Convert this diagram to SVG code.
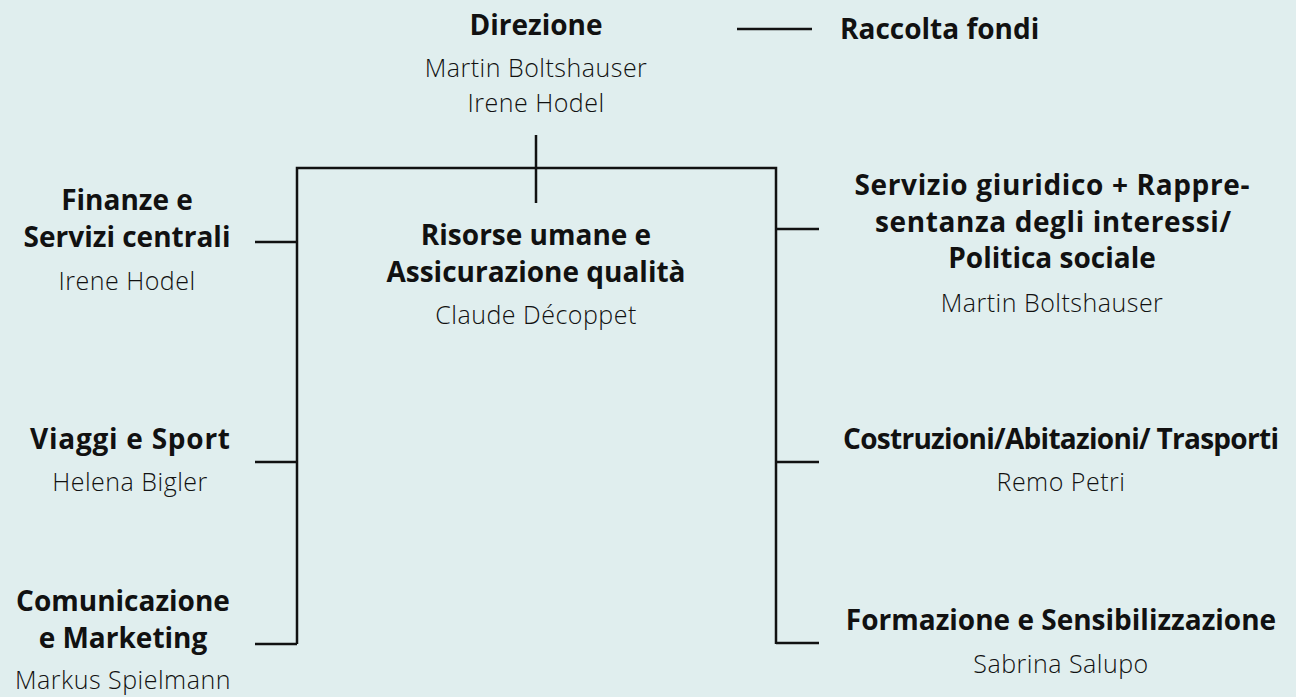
<svg xmlns="http://www.w3.org/2000/svg" width="1296" height="697" viewBox="0 0 1296 697">
<style>
.t{font-family:"Open Sans","Liberation Sans",sans-serif;font-weight:700;font-size:28px;fill:#111;text-anchor:middle}
.p{font-family:"Open Sans","Liberation Sans",sans-serif;font-weight:300;font-size:25px;letter-spacing:0.5px;fill:#111;text-anchor:middle}
.c{fill:none;stroke:#111;stroke-width:2.5}
</style>
<rect width="1296" height="697" fill="#e0eeee"/>
<g id="connectors">
<path class="c" d="M297,644 V168 H776 V644"/>
<path class="c" d="M536,135 V203"/>
<path class="c" d="M737,29 H812"/>
<path class="c" d="M255,242 H297 M255,462 H297 M255,644 H297"/>
<path class="c" d="M776,229 H819 M776,462 H819 M776,643 H819"/>
</g>
<g id="direzione">
<text class="t" x="536" y="35">Direzione</text>
<text class="p" x="536" y="77">Martin Boltshauser</text>
<text class="p" x="536" y="112">Irene Hodel</text>
</g>
<g id="raccolta">
<text class="t" x="840" y="39" style="text-anchor:start">Raccolta fondi</text>
</g>
<g id="finanze">
<text class="t" x="127" y="210">Finanze e</text>
<text class="t" x="127" y="247">Servizi centrali</text>
<text class="p" x="127" y="290">Irene Hodel</text>
</g>
<g id="risorse">
<text class="t" x="536" y="245">Risorse umane e</text>
<text class="t" x="536" y="282">Assicurazione qualità</text>
<text class="p" x="536" y="324">Claude Décoppet</text>
</g>
<g id="servizio">
<text class="t" x="1052" y="195" textLength="395" lengthAdjust="spacing">Servizio giuridico + Rappre-</text>
<text class="t" x="1053" y="232" textLength="356" lengthAdjust="spacing">sentanza degli interessi/</text>
<text class="t" x="1052" y="268">Politica sociale</text>
<text class="p" x="1052" y="312">Martin Boltshauser</text>
</g>
<g id="viaggi">
<text class="t" x="130" y="449" textLength="200" lengthAdjust="spacing">Viaggi e Sport</text>
<text class="p" x="130" y="491">Helena Bigler</text>
</g>
<g id="comunicazione">
<text class="t" x="123" y="611">Comunicazione</text>
<text class="t" x="123" y="648">e Marketing</text>
<text class="p" x="123" y="689">Markus Spielmann</text>
</g>
<g id="costruzioni">
<text class="t" x="1061" y="449" textLength="436" lengthAdjust="spacing">Costruzioni/Abitazioni/ Trasporti</text>
<text class="p" x="1061" y="491">Remo Petri</text>
</g>
<g id="formazione">
<text class="t" x="1061" y="630">Formazione e Sensibilizzazione</text>
<text class="p" x="1061" y="673">Sabrina Salupo</text>
</g>
</svg>
